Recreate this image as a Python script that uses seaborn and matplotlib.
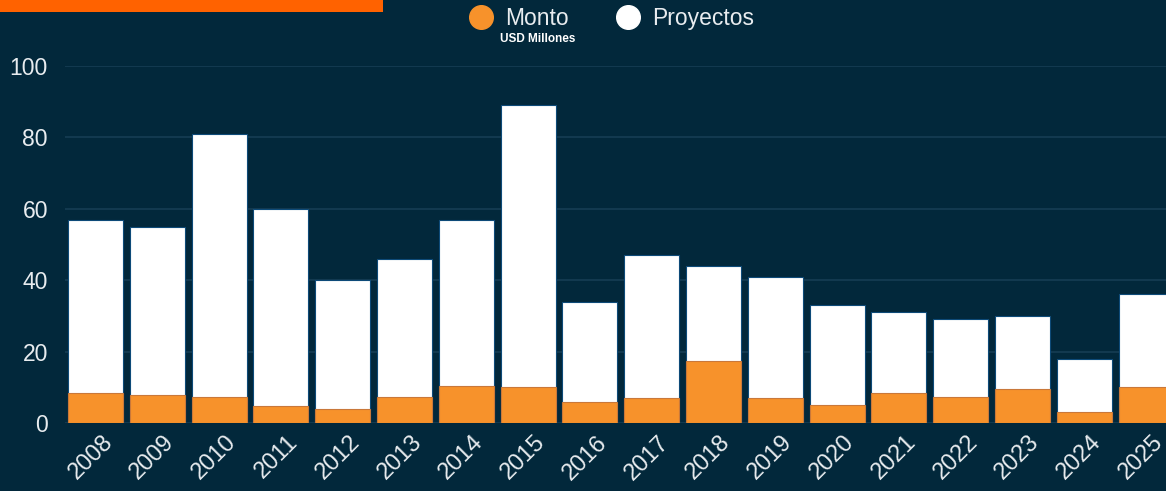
import pandas as pd
import numpy as np
import seaborn as sns
from matplotlib import pyplot as plt
from matplotlib.lines import Line2D
from matplotlib.patches import Rectangle
from matplotlib.transforms import ScaledTranslation

years = ['2008', '2009', '2010', '2011', '2012', '2013', '2014', '2015', '2016',
         '2017', '2018', '2019', '2020', '2021', '2022', '2023', '2024', '2025']
proyectos = [57, 55, 81, 60, 40, 46, 57, 89, 34, 47, 44, 41, 33, 31, 29, 30, 18, 36]
monto = [8.4, 7.8, 7.3, 4.8, 3.9, 7.3, 10.4, 10.1, 5.9, 6.9, 17.4, 7.0, 5.0, 8.4, 7.3, 9.5, 3.1, 10.1]

df = pd.DataFrame({'year': years, 'Proyectos': proyectos, 'Monto': monto})

bg = '#02283b'
orange = '#f7922b'

sns.set_style('dark')
plt.rcParams['font.family'] = ['Liberation Sans', 'DejaVu Sans']

fig = plt.figure(figsize=(11.66, 4.91), dpi=100)
fig.patch.set_facecolor(bg)
ax = fig.add_axes([0.0554, 0.1385, 0.954, 0.727])
ax.set_facecolor(bg)

#white bars behind = number of projects, orange on top = amount
sns.barplot(data=df, x='year', y='Proyectos', color='white', width=0.89, saturation=1,
            edgecolor='#0d4a78', linewidth=0.8, ax=ax)
sns.barplot(data=df, x='year', y='Monto', color=orange, width=0.89, saturation=1,
            edgecolor='#c9783a', linewidth=0.8, ax=ax)

ax.set_xlim(-0.5, 17.5)
ax.set_ylim(0, 100)
ax.set_yticks([0, 20, 40, 60, 80, 100])
ax.grid(axis='y', color='#163d54', linewidth=1.2)
ax.grid(axis='x', visible=False)
ax.set_axisbelow(True)
for s in ax.spines.values():
    s.set_visible(False)
ax.set_xlabel('')
ax.set_ylabel('')
ax.tick_params(axis='y', colors='#e8ecef', labelsize=16.5, length=0, pad=12)
ax.tick_params(axis='x', colors='#e8ecef', labelsize=17, length=0, pad=6)
offset = ScaledTranslation(6 / 100, 0, fig.dpi_scale_trans)
for lab in ax.get_xticklabels():
    lab.set_rotation(45)
    lab.set_ha('right')
    lab.set_rotation_mode('anchor')
    lab.set_transform(lab.get_transform() + offset)

# orange strip top-left
fig.patches.append(Rectangle((0, 1 - 12 / 491), 383 / 1166, 12 / 491, transform=fig.transFigure,
                             facecolor='#ff6200', edgecolor='none'))

handles = [Line2D([], [], marker='o', linestyle='none', markersize=17, markerfacecolor=orange,
                  markeredgecolor=orange, label='Monto'),
           Line2D([], [], marker='o', linestyle='none', markersize=17, markerfacecolor='white',
                  markeredgecolor='white', label='Proyectos')]
leg = fig.legend(handles=handles, loc='center', bbox_to_anchor=(0.524, 0.963), ncol=2, frameon=False,
                 fontsize=16.5, handletextpad=0.45, columnspacing=2.0, handlelength=1.2)
for t in leg.get_texts():
    t.set_color('#e8ecef')
fig.text(538 / 1166, 1 - 39 / 491, 'USD Millones', color='white', fontsize=8.5, fontweight='bold',
         ha='center', va='center')

plt.savefig('out.png', dpi=100, facecolor=bg)
